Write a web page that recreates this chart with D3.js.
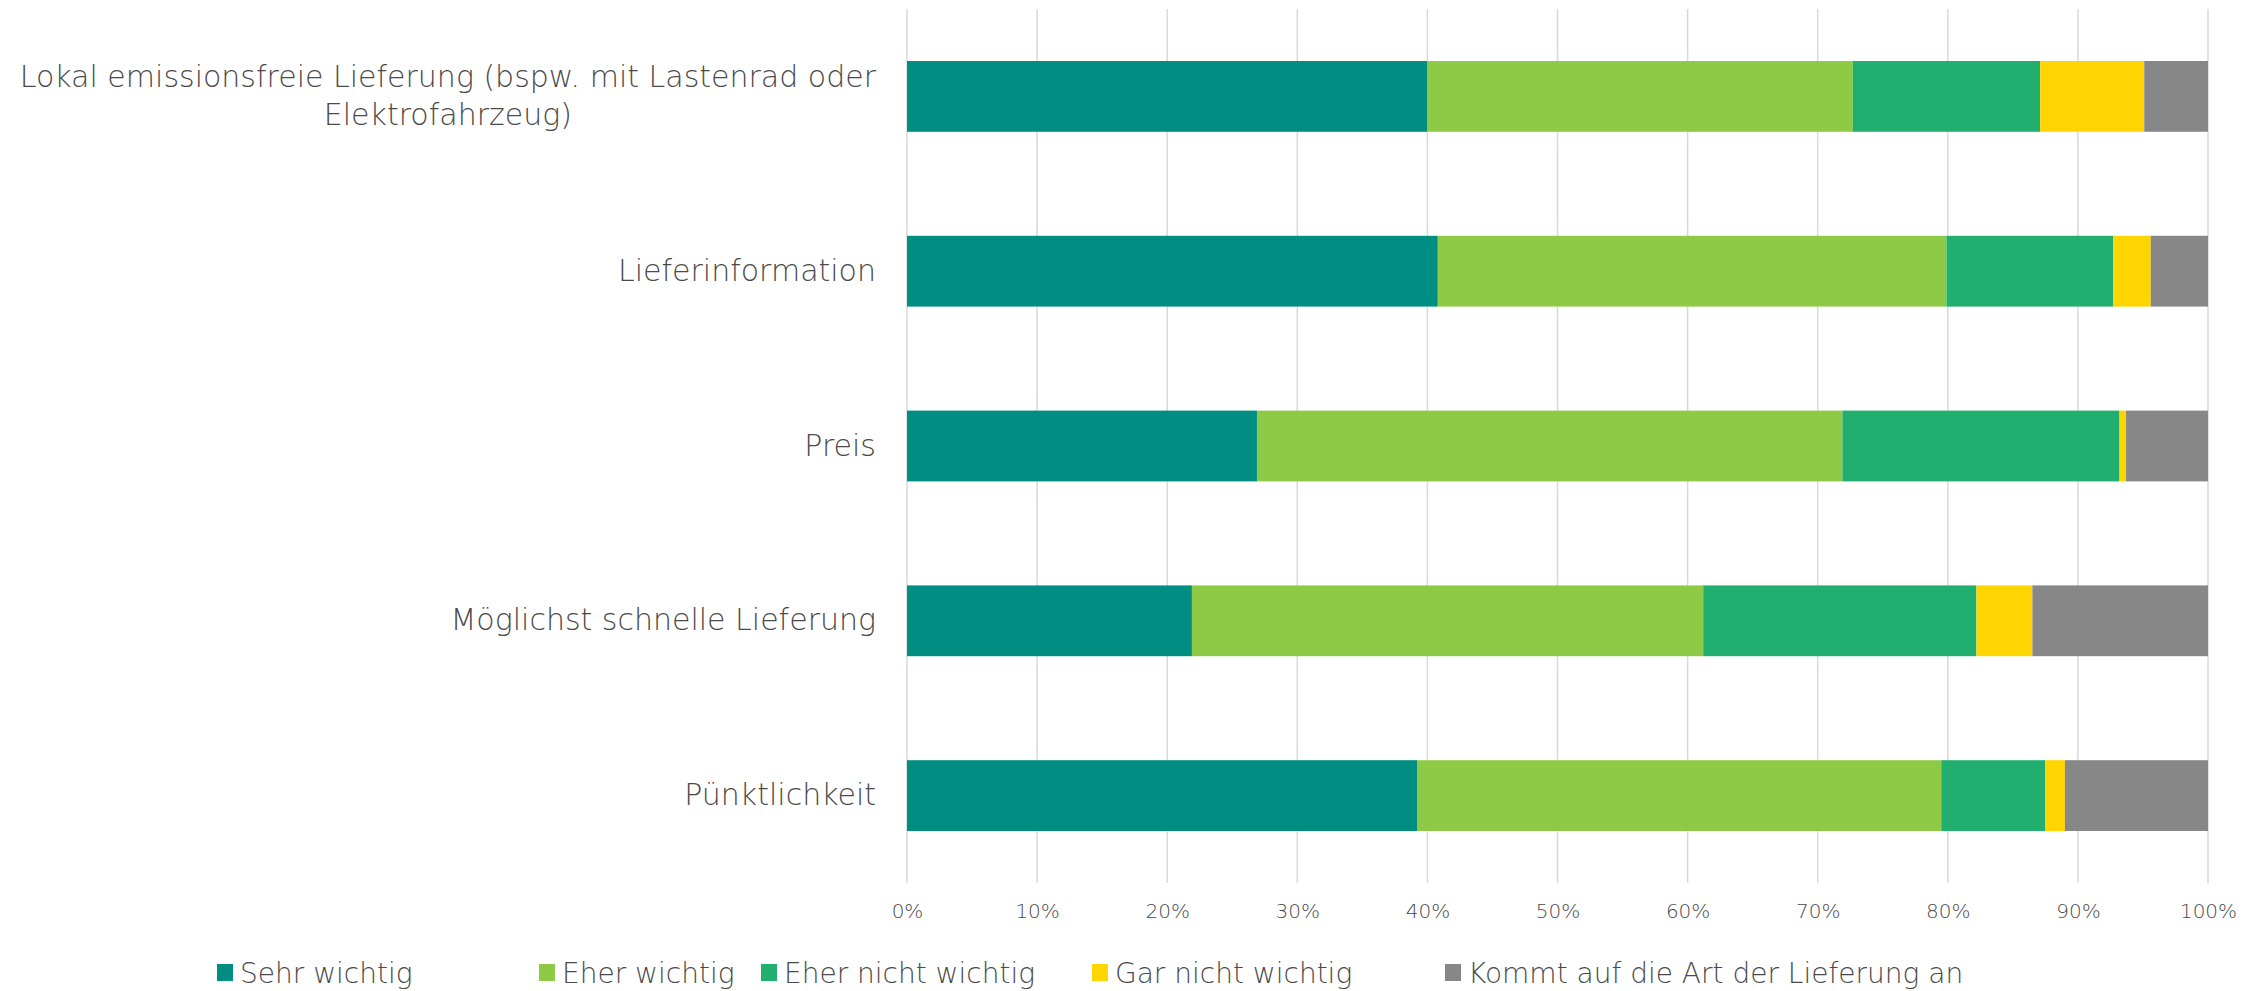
<!DOCTYPE html>
<html>
<head>
<meta charset="utf-8">
<script src="https://cdn.jsdelivr.net/npm/d3@7"></script>
<style>
  body { margin: 0; background: #fff; }
  text { font-family: "Century Gothic", "DejaVu Sans", sans-serif; fill: #4a4a4a; font-weight: 300; }
</style>
</head>
<body>
<div id="chart"></div>
<script>
const categories = [
  "Lokal emissionsfreie Lieferung (bspw. mit Lastenrad oder Elektrofahrzeug)",
  "Lieferinformation",
  "Preis",
  "Möglichst schnelle Lieferung",
  "Pünktlichkeit"
]
const seriesNames = ["Sehr wichtig", "Eher wichtig", "Eher nicht wichtig", "Gar nicht wichtig", "Kommt auf die Art der Lieferung an"]
const sehrWichtig     = [40.0, 40.8, 26.9, 21.9, 39.2]
const eherWichtig     = [32.7, 39.1, 45.0, 39.3, 40.3]
const eherNicht       = [14.4, 12.8, 21.3, 21.0,  8.0]
const garNicht        = [ 8.0,  2.9,  0.5,  4.3,  1.5]
const kommtDarauf     = [ 4.9,  4.4,  6.3, 13.5, 11.0]
const tickValues = [0, 10, 20, 30, 40, 50, 60, 70, 80, 90, 100]
const colors = ["#008E83", "#8FCA47", "#20AF6E", "#FFD500", "#878787"]

const W = 2244, H = 991
const margin = { top: 9, right: 36, bottom: 108, left: 907 }
const width = W - margin.left - margin.right
const height = H - margin.top - margin.bottom
const fontStack = "'Century Gothic', 'DejaVu Sans', sans-serif"
const textColor = "#4a4a4a"

const svg = d3.select("#chart").append("svg")
  .attr("width", W)
  .attr("height", H)

const g = svg.append("g")
  .attr("transform", "translate(" + margin.left + "," + margin.top + ")")

const x = d3.scaleLinear().domain([0, 100]).range([0, width])
const y = d3.scaleBand().domain(categories).range([0, height])
  .paddingInner(0.595).paddingOuter(0.2975)

// gridlines
g.append("g")
  .selectAll("line")
  .data(tickValues)
  .enter()
  .append("line")
  .attr("x1", d => x(d)).attr("x2", d => x(d))
  .attr("y1", 0).attr("y2", height)
  .style("stroke", "#D9D9D9")
  .style("stroke-width", 1.5)

// stack the series
const rows = categories.map((c, i) => ({
  cat: c,
  s0: sehrWichtig[i], s1: eherWichtig[i], s2: eherNicht[i], s3: garNicht[i], s4: kommtDarauf[i]
}))
const stack = d3.stack().keys(["s0", "s1", "s2", "s3", "s4"])
const layers = stack(rows)

g.selectAll(".layer")
  .data(layers)
  .enter()
  .append("g")
  .attr("class", "layer")
  .style("fill", (d, i) => colors[i])
  .selectAll("rect")
  .data(d => d)
  .enter()
  .append("rect")
  .attr("x", d => x(d[0]))
  .attr("width", d => x(d[1]) - x(d[0]))
  .attr("y", d => y(d.data.cat))
  .attr("height", y.bandwidth())

// x axis labels
const xAxis = g.append("g")
  .attr("transform", "translate(0," + height + ")")
  .call(d3.axisBottom(x).tickValues(tickValues).tickFormat(d => d + "%").tickSize(0).tickPadding(21))
xAxis.select(".domain").remove()
xAxis.selectAll("text")
  .style("font-family", fontStack)
  .style("font-size", "20px")
  .style("font-weight", 300)
  .style("fill", textColor)

// y axis labels with wrapping
const yAxis = g.append("g")
  .call(d3.axisLeft(y).tickSize(0).tickPadding(31))
yAxis.select(".domain").remove()
yAxis.selectAll("text")
  .style("font-family", fontStack)
  .style("font-size", "30px")
  .style("font-weight", 300)
  .style("fill", textColor)
  .each(function () { wrap(d3.select(this), 875) })

function wrap(text, maxW) {
  const words = text.text().split(" ")
  const xPos = text.attr("x")
  text.text(null)
  let lines = [[]]
  let tspan = text.append("tspan").attr("x", xPos)
  words.forEach(w => {
    const line = lines[lines.length - 1]
    line.push(w)
    tspan.text(line.join(" "))
    if (tspan.node().getComputedTextLength() > maxW && line.length > 1) {
      line.pop()
      tspan.text(line.join(" "))
      lines.push([w])
      tspan = text.append("tspan").attr("x", xPos).text(w)
    }
  })
  const n = lines.length
  const lh = 1.3
  text.selectAll("tspan").each(function (d, i) {
    d3.select(this).attr("dy", i === 0 ? (0.32 - (n - 1) * lh / 2) + "em" : lh + "em")
  })
  text.attr("dy", null).style("text-anchor", "middle")
  // lines centred on each other, block right aligned
  let maxLen = 0
  text.selectAll("tspan").each(function () { maxLen = Math.max(maxLen, this.getComputedTextLength()) })
  text.selectAll("tspan").attr("x", +xPos - maxLen / 2)
}

// legend
const legendX = [217, 539, 761, 1092, 1445]
const legend = svg.append("g").attr("transform", "translate(0," + 973 + ")")
const items = legend.selectAll("g")
  .data(seriesNames)
  .enter()
  .append("g")
  .attr("transform", (d, i) => "translate(" + legendX[i] + ",0)")
items.append("rect")
  .attr("x", 0).attr("y", -9)
  .attr("width", 16).attr("height", 17)
  .style("fill", (d, i) => colors[i])
items.append("text")
  .attr("x", 23)
  .attr("y", 0)
  .attr("dy", "0.35em")
  .style("font-size", "28px")
  .text(d => d)
</script>
</body>
</html>
